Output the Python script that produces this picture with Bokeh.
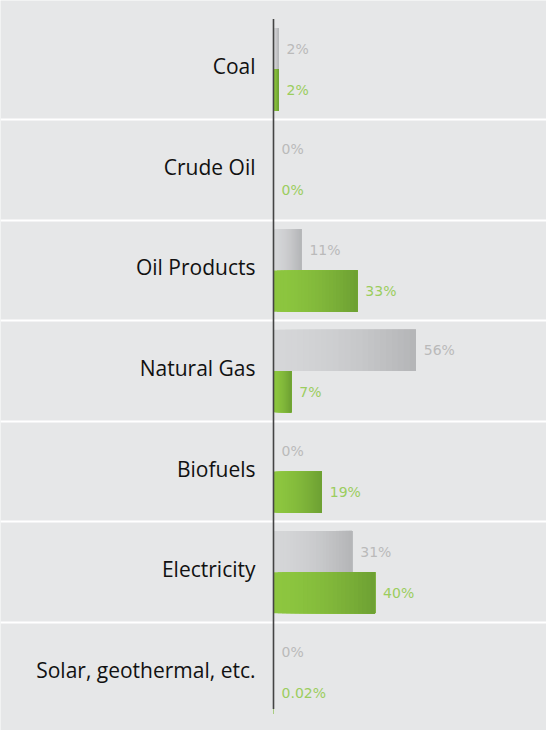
from bokeh.plotting import figure
from bokeh.models import Range1d, FixedTicker
from bokeh.core.properties import value
from bokeh.embed import file_html
from bokeh.resources import INLINE

categories = ["Coal", "Crude Oil", "Oil Products", "Natural Gas", "Biofuels",
              "Electricity", "Solar, geothermal, etc."]
gray_vals = [2, 0, 11, 56, 0, 31, 0]
green_vals = [2, 0, 33, 7, 19, 40, 0.02]
gray_labels = ["2%", "0%", "11%", "56%", "0%", "31%", "0%"]
green_labels = ["2%", "0%", "33%", "7%", "19%", "40%", "0.02%"]

BG = "#e6e7e8"
W, H = 546, 730
n = len(categories)
row_px = 100.57
top_px = 18.5
axis_px = 273
px_per_unit = 2.54

p = figure(width=W, height=H, output_backend="svg", toolbar_location=None,
           x_range=Range1d(-axis_px / px_per_unit, (W - axis_px) / px_per_unit),
           y_range=Range1d(n + (H - top_px - n * row_px) / row_px, -top_px / row_px),
           min_border=0, min_border_left=0, min_border_right=0,
           min_border_top=0, min_border_bottom=0)
p.background_fill_color = BG
p.border_fill_color = BG
p.outline_line_color = None
p.xaxis.visible = False
p.yaxis.visible = False
p.xgrid.grid_line_color = None
p.ygrid.ticker = FixedTicker(ticks=list(range(1, n)))
p.ygrid.grid_line_color = "white"
p.ygrid.grid_line_width = 2

rows = list(range(n))
gray_y = [r + 0.295 for r in rows]
green_y = [r + 0.705 for r in rows]
bh = 0.41


def lerp(c1, c2, t):
    a = [int(c1[i:i + 2], 16) for i in (1, 3, 5)]
    b = [int(c2[i:i + 2], 16) for i in (1, 3, 5)]
    return "#%02x%02x%02x" % tuple(round(a[j] + (b[j] - a[j]) * t) for j in range(3))


def grad_bars(ys, vals, c_left, c_right, steps=24):
    for k in range(steps):
        t = k / (steps - 1)
        col = lerp(c_left, c_right, t ** 1.6)
        lefts = [v * k / steps for v in vals]
        p.hbar(y=ys, left=lefts, right=vals, height=bh, fill_color=col,
               line_color=None)


grad_bars(gray_y, gray_vals, "#d5d6d8", "#b5b6b8")
grad_bars(green_y, green_vals, "#8dc63f", "#6ea133")

# vertical axis line
p.segment(x0=[0], y0=[0], x1=[0], y1=[n - 0.14], line_color="#444444",
          line_width=1.6)

# category labels
p.text(x=[0] * n, y=[r + 0.5 for r in rows], text=categories, x_offset=-18,
       y_offset=-3,
       text_align="right", text_baseline="middle", text_color="#111111",
       text_font=value("Open Sans"), text_font_size="21px")

# value labels
p.text(x=gray_vals, y=gray_y, text=gray_labels, x_offset=8,
       text_align="left", text_baseline="middle", text_color="#bababa",
       text_font=value("DejaVu Sans"), text_font_size="14px")
p.text(x=green_vals, y=green_y, text=green_labels, x_offset=8,
       text_align="left", text_baseline="middle", text_color="#9bcd5e",
       text_font=value("DejaVu Sans"), text_font_size="14px")

open("out.html", "w").write(file_html(p, INLINE))
